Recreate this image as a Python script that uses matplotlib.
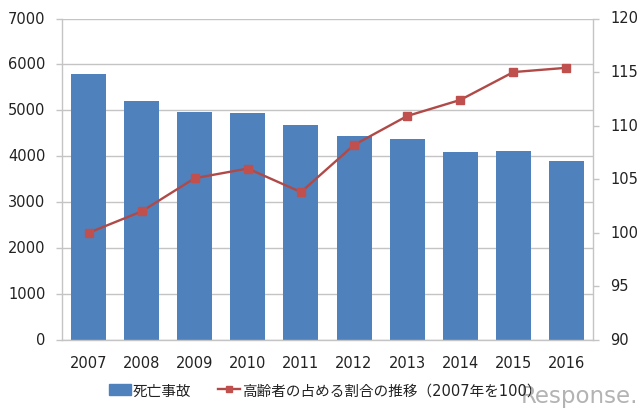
import matplotlib
matplotlib.use('Agg')
import matplotlib.pyplot as plt
from matplotlib.lines import Line2D
from matplotlib.patches import Patch
from matplotlib.transforms import ScaledTranslation

plt.rcParams['font.family'] = ['DejaVu Sans', 'Noto Sans CJK JP']

years = ['2007', '2008', '2009', '2010', '2011', '2012', '2013', '2014', '2015', '2016']
deaths = [5790, 5200, 4975, 4940, 4680, 4440, 4375, 4095, 4115, 3900]
elderly = [100, 102, 105.1, 106, 103.8, 108.2, 110.9, 112.4, 115, 115.4]
bar_label = '死亡事故'
line_label = '高齢者の占める割合の推移（2007年を100）'

grid_col = '#c4c4c4'
text_col = '#222222'

fig = plt.figure(figsize=(6.4, 4.14), dpi=100)
ax = fig.add_axes([62 / 640, 1 - 341 / 414, 531 / 640, 321.5 / 414])
xs = range(len(years))

ax.bar(xs, deaths, width=0.66, color='#4f81bd', zorder=2)
ax.set_xlim(-0.5, 9.5)
ax.set_ylim(0, 7000)
ax.set_yticks(range(0, 8000, 1000))
ax.set_xticks(list(xs))
ax.set_xticklabels(years)
ax.grid(axis='y', color=grid_col, linewidth=1.0, zorder=0)
ax.set_axisbelow(True)
ax.tick_params(axis='y', length=4, color=grid_col, width=1.0, labelsize=10.5, labelcolor=text_col, pad=8)
ax.tick_params(axis='x', length=0, labelsize=10.5, labelcolor=text_col, pad=11)
for s in ['top', 'right']:
    ax.spines[s].set_visible(False)
for s in ['left', 'bottom']:
    ax.spines[s].set_color(grid_col)
    ax.spines[s].set_linewidth(1.0)

ax2 = ax.twinx()
ax2.plot(xs, elderly, color='#b04a48', linewidth=1.7, marker='s', markersize=6,
         markerfacecolor='#c0504d', markeredgecolor='#c0504d', zorder=3)
ax2.set_ylim(90, 120)
ax2.set_yticks(range(90, 125, 5))
ax2.tick_params(axis='y', length=4, color=grid_col, width=1.0, labelsize=10.5, labelcolor=text_col, pad=8.5)
for s in ['top', 'left', 'bottom']:
    ax2.spines[s].set_visible(False)
ax2.spines['right'].set_color(grid_col)
ax2.spines['right'].set_linewidth(1.0)

# tick labels sit a little above their ticks in the original
nudge = ScaledTranslation(0, 2 / 100, fig.dpi_scale_trans)
for lab in ax.get_yticklabels() + ax2.get_yticklabels():
    lab.set_transform(lab.get_transform() + nudge)

handles = [Patch(color='#4f81bd', label=bar_label),
           Line2D([], [], color='#b04a48', linewidth=1.7, marker='s', markersize=5,
                  markerfacecolor='#c0504d', markeredgecolor='#c0504d', label=line_label)]
fig.legend(handles=handles, loc='center', bbox_to_anchor=(325 / 640, 1 - 391 / 414), ncol=2,
           frameon=False, fontsize=10.5, handlelength=1.5, handletextpad=0.15,
           columnspacing=1.8, labelcolor=text_col)

# watermark, bottom right
fig.text(638 / 640, 1 - 397 / 414, 'Response.', ha='right', va='center', fontsize=16.5,
         color='#a6a6a6', alpha=0.85)

fig.savefig('out.png', dpi=100)
